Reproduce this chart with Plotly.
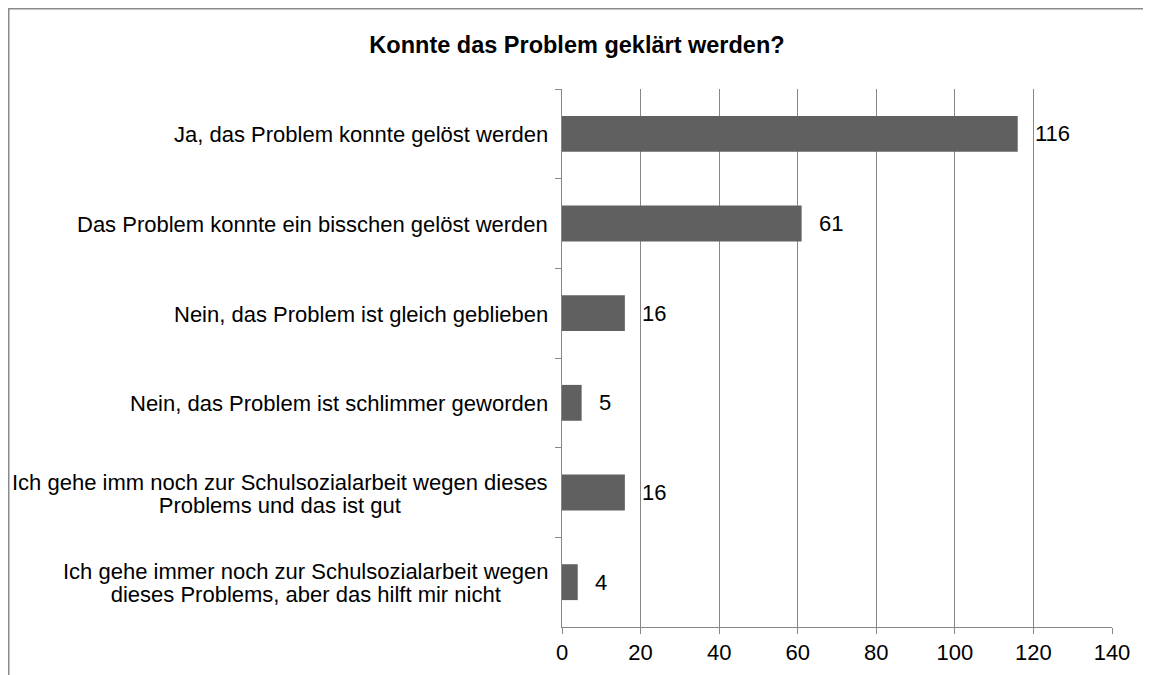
import plotly.graph_objects as go

categories = [
    "Ja, das Problem konnte gelöst werden",
    "Das Problem konnte ein bisschen gelöst werden",
    "Nein, das Problem ist gleich geblieben",
    "Nein, das Problem ist schlimmer geworden",
    "Ich gehe imm noch zur Schulsozialarbeit wegen dieses<br>Problems und das ist gut",
    "Ich gehe immer noch zur Schulsozialarbeit wegen<br>dieses Problems, aber das hilft mir nicht",
]
values = [116, 61, 16, 5, 16, 4]
x_ticks = [0, 20, 40, 60, 80, 100, 120, 140]
title_text = "Konnte das Problem geklärt werden?"

# page body adds an 8px offset; positions below are in figure pixels
W, H = 1151, 675
OFF = 8
L = 562 - OFF
T = 89 - OFF
R = W - (1112 - OFF)
B = H - (627 - OFF)
pw, ph = W - L - R, H - T - B

FONT = "Liberation Sans, Arial, sans-serif"
GRID = "#878787"
BAR = "#606060"
FS = 22
# base size controls line spacing (1.3 em) of wrapped labels; glyphs drawn at FS
BASE_FS = 17.5

fig = go.Figure()
fig.add_trace(go.Bar(
    x=values, y=categories, orientation="h",
    marker=dict(color=BAR, line=dict(width=0)),
    hoverinfo="skip",
))

annotations = []
for c, v in zip(categories, values):
    annotations.append(dict(
        x=v, y=c, xref="x", yref="y", text=str(v), showarrow=False,
        xanchor="left", yanchor="middle", xshift=15,
        font=dict(family=FONT, size=FS, color="#000000"),
    ))
    lines = c.split("<br>")
    txt = "<br>".join("<span style='font-size:%dpx'>%s</span>" % (FS, ln) for ln in lines)
    annotations.append(dict(
        x=0, y=c, xref="paper", yref="y", text=txt, showarrow=False,
        xanchor="right", yanchor="middle", align="center",
        xshift=-12, yshift=-1,
        font=dict(family=FONT, size=BASE_FS, color="#000000"),
    ))

# outer chart border
bx0 = (0.75 - L) / pw
bx1 = (W + 3 - L) / pw
by1 = (H - B - 0.75) / ph
by0 = (H - B - (H + 3)) / ph

fig.update_layout(
    width=W, height=H,
    margin=dict(l=L, r=R, t=T, b=B),
    paper_bgcolor="white", plot_bgcolor="white",
    showlegend=False,
    bargap=0.6,
    title=dict(text="<b>" + title_text + "</b>", x=(577 - OFF) / W, xref="container", xanchor="center",
               y=1 - (45 - OFF) / H, yref="container", yanchor="middle",
               font=dict(family=FONT, size=23.5, color="#000000")),
    xaxis=dict(range=[0, 140], tickvals=x_ticks, ticktext=[str(t) for t in x_ticks],
               showgrid=True, gridcolor=GRID, gridwidth=1,
               showline=True, linecolor=GRID, linewidth=1,
               ticks="outside", ticklen=6, tickcolor=GRID,
               zeroline=False,
               tickfont=dict(family=FONT, size=FS, color="#000000")),
    yaxis=dict(autorange="reversed", type="category",
               showticklabels=False, showgrid=False,
               showline=True, linecolor=GRID, linewidth=1,
               ticks="outside", ticklen=6, tickcolor=GRID, tickson="boundaries"),
    annotations=annotations,
    shapes=[dict(type="rect", xref="paper", yref="paper",
                 x0=bx0, x1=bx1, y0=by0, y1=by1,
                 line=dict(color="#8a8a8a", width=1.5), layer="below")],
)

fig.write_html("out.html")
